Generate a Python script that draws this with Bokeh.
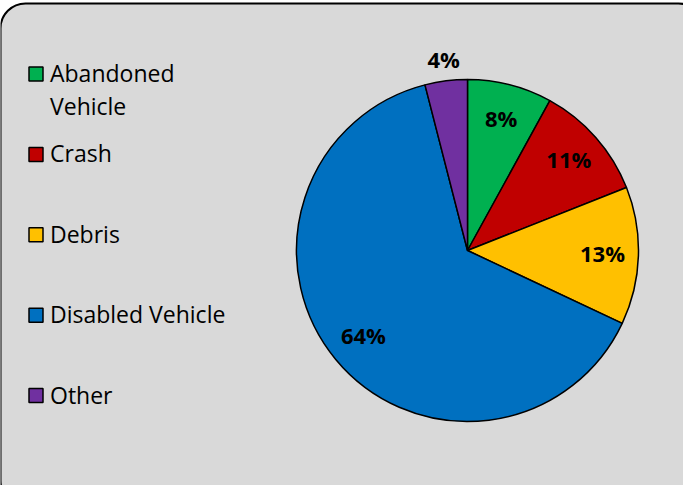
import numpy as np
from bokeh.plotting import figure
from bokeh.models import Range1d, BoxAnnotation, ColumnDataSource
from bokeh.core.properties import value
from bokeh.embed import file_html
from bokeh.resources import INLINE

# ---- data ----
categories = ["Abandoned Vehicle", "Crash", "Debris", "Disabled Vehicle", "Other"]
legend_lines = [["Abandoned", "Vehicle"], ["Crash"], ["Debris"], ["Disabled Vehicle"], ["Other"]]
percent = [8, 11, 13, 64, 4]
colors = ["#00B050", "#C00000", "#FFC000", "#0070C0", "#7030A0"]

# ---- layout ----
W, H = 683, 485
p = figure(width=W, height=H, x_range=Range1d(0, W), y_range=Range1d(0, H),
           output_backend="svg", toolbar_location=None, min_border=0)
p.axis.visible = False
p.grid.visible = False
p.outline_line_color = None
p.background_fill_color = "white"
p.border_fill_color = "white"

box = BoxAnnotation(left=0, right=W + 20, top=H - 3, bottom=-20,
                    fill_color="#D9D9D9", fill_alpha=1.0,
                    line_color="black", line_alpha=1.0, line_width=2,
                    border_radius=25, level="underlay")
p.add_layout(box)

# ---- pie ----
cx, cy, R = 467, 235, 171
frac = np.array(percent, dtype=float) / sum(percent)
cum = np.cumsum(frac)
prev = np.concatenate([[0.0], cum[:-1]])
start = np.pi / 2 - 2 * np.pi * prev
end = np.pi / 2 - 2 * np.pi * cum
src = ColumnDataSource(dict(start=start, end=end, color=colors, cat=categories))
p.wedge(x=cx, y=cy, radius=R, start_angle="start", end_angle="end",
        direction="clock", fill_color="color", line_color="black",
        line_width=1.5, source=src)

mid = (start + end) / 2
rf = np.array([1.116 if v < 5 else 0.79 for v in percent])
lx = cx + R * rf * np.cos(mid)
ly = cy + R * rf * np.sin(mid) + 2
p.text(x=lx, y=ly, text=[f"{v}%" for v in percent],
       text_font=value("Open Sans"), text_font_style="bold",
       text_font_size="22px", text_align="center", text_baseline="middle",
       text_color="black")

# ---- legend ----
top_c = H + 8 - 81.5
step = 80.4
mx, my, tx, ty, tt = [], [], [], [], []
for i, lines in enumerate(legend_lines):
    yc = top_c - i * step
    mx.append(35.5)
    my.append(yc)
    for j, line in enumerate(lines):
        tx.append(49.5)
        ty.append(yc + 1.0 - j * 33)
        tt.append(line)
p.scatter(x=mx, y=my, marker="square", size=14, fill_color=colors,
          line_color="black", line_width=1.5)
p.text(x=tx, y=ty, text=tt, text_font=value("Open Sans"),
       text_font_size="23px", text_align="left", text_baseline="alphabetic",
       text_color="black")

open("out.html", "w").write(file_html(p, INLINE))
